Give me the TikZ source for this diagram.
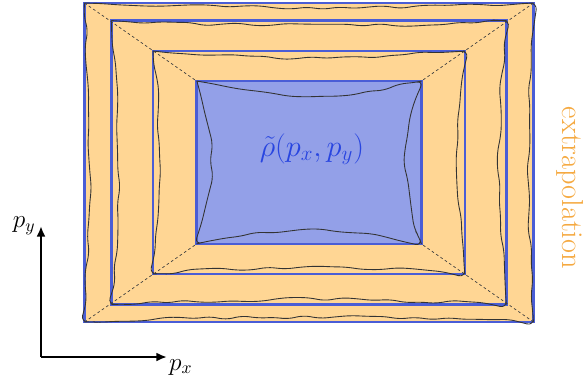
\documentclass[tikz,border=0pt]{standalone}
\usepackage{tikz}
\usetikzlibrary{positioning,arrows.meta,decorations.pathmorphing}
\definecolor{band}{HTML}{FFD694}
\definecolor{core}{HTML}{93A0E8}
\definecolor{rim}{HTML}{4A5DD6}
\definecolor{ink}{HTML}{2845E0}
\definecolor{extra}{HTML}{F5A940}

% wavy contour inside a frame node: #1 node, #2 bend of top/bottom, #3 bend of sides
\newcommand{\wavyframe}[3]{%
  \draw[wavy] (#1.north west) to[bend right=#2] (#1.north east) to[bend right=#3] (#1.south east)
    to[bend right=#2] (#1.south west) to[bend right=#3] (#1.north west);}

\begin{document}
\begin{tikzpicture}[x=0.02cm, y=-0.02cm,
      ring/.style={draw=rim, fill=band, line width=1.5pt, outer sep=0pt, inner sep=0pt},
      corebox/.style={ring, fill=core},
      wavy/.style={black!80, line width=0.5pt, rounded corners=4pt,
                   decorate, decoration={random steps, segment length=9pt, amplitude=1.2pt}},
      diag/.style={black!75, line width=0.4pt, dash pattern=on 1.5pt off 1.5pt},
      axis/.style={-{Latex[length=6pt, width=5pt]}, line width=1.6pt},
      axlabel/.style={font=\Large, inner sep=1pt}]
    \useasboundingbox (0,0) rectangle (585,380);
    \pgfmathsetseed{11}
    \node[ring, minimum width=8.98cm, minimum height=6.38cm] (r1) at (309,162.5) {};
    \node[ring, minimum width=7.90cm, minimum height=5.68cm] (r2) at (309,162.5) {};
    \node[ring, minimum width=6.24cm, minimum height=4.46cm] (r3) at (309,162.5) {};
    \node[corebox, minimum width=4.50cm, minimum height=3.26cm] (r4) at (309,162.5) {};
    \wavyframe{r1}{2}{3}
    \wavyframe{r2}{2.5}{5}
    \wavyframe{r3}{4}{6}
    \wavyframe{r4}{12}{18}
    \draw[diag] (r1.north west) -- (r4.north west); \draw[diag] (r1.north east) -- (r4.north east);
    \draw[diag] (r1.south west) -- (r4.south west); \draw[diag] (r1.south east) -- (r4.south east);
    \node[text=ink, font=\LARGE] (rho) at (312,149) {$\tilde{\rho}(p_x,p_y)$};
    \node[text=extra, font=\LARGE, rotate=-90] (extra) at (570,188) {extrapolation};
    \coordinate (origin) at (41,357);
    \coordinate (xtip) at (167,357);
    \coordinate (ytip) at (41,226);
    \draw[axis] (origin) -- (xtip); \draw[axis] (origin) -- (ytip);
    \node[axlabel, below right=0pt and 0pt of xtip] (px) {$p_x$};
    \node[axlabel, left=2pt of ytip] (py) {$p_y$};
  \end{tikzpicture}
\end{document}
